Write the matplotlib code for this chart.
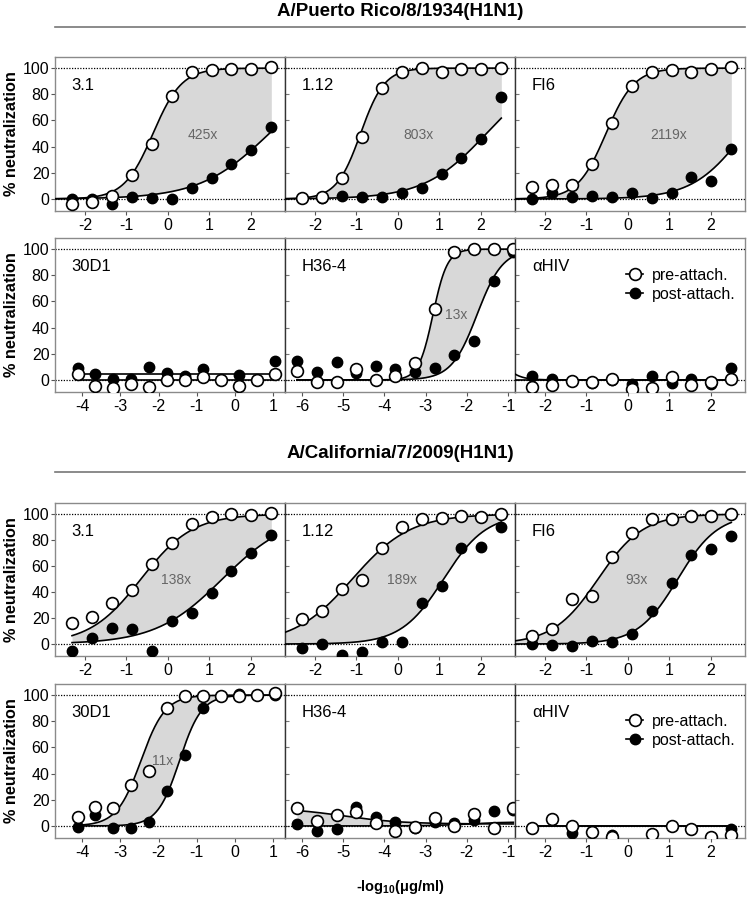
import numpy as np
import matplotlib
matplotlib.use('Agg')
import matplotlib.pyplot as plt
from matplotlib.lines import Line2D

plt.rcParams['font.family'] = ['Liberation Sans', 'DejaVu Sans']
plt.rcParams['mathtext.fontset'] = 'custom'
plt.rcParams['mathtext.rm'] = 'Liberation Sans'
plt.rcParams['mathtext.bf'] = 'Liberation Sans:bold'

# x positions (dilution series)
x_std = [-2.31, -1.83, -1.35, -0.87, -0.39, 0.09, 0.57, 1.05, 1.53, 2.01, 2.49]
x_30d1 = [-4.12, -3.65, -3.18, -2.71, -2.24, -1.77, -1.30, -0.83, -0.36, 0.11, 0.58, 1.05]
x_h36 = [-6.12, -5.64, -5.16, -4.68, -4.20, -3.73, -3.25, -2.77, -2.30, -1.82, -1.35, -0.87]

# A/Puerto Rico/8/1934
pr_31_pre = [-3.8, -2.5, 2.5, 18.6, 42.2, 78.9, 97.2, 98.5, 99.7, 99.7, 101]
pr_31_post = [0, 0, -3.8, 1.8, 0.8, 0, 8, 16, 26.5, 37.4, 54.7]
pr_112_pre = [0.5, 1.5, 16, 47, 85, 97, 100, 97, 99, 99, 100]
pr_112_post = [0.5, 0.8, 2.3, 1.3, 1.5, 4.6, 8, 19, 31, 46, 78]
pr_fi6_pre = [9.5, 10.7, 10.7, 27, 58, 86, 97, 98.5, 97, 99, 100.5]
pr_fi6_post = [0, 4.4, 1.3, 2.3, 1.3, 4.6, 0.5, 4.6, 16.5, 14, 38]
pr_30d1_pre = [4.4, -4.6, -5.9, -3, -5, 0, 0, 2.6, 0, -4.4, 0, 4.4]
pr_30d1_post = [9.5, 4.6, 0.5, 0.5, 10, 5, 3, 8, 0, 4, 0, 14.6]
pr_h36_pre = [7.2, -1.8, -1.8, 8.2, 0, 3.3, 12.8, 54, 98, 100, 100, 100]
pr_h36_post = [14.6, 6.4, 14, 5, 11, 8.2, 6, 9, 18.7, 30, 75.6, 98]
pr_hiv_pre = [-5, -3.8, -0.8, -1.8, 1, -7, -5.9, 2.6, -3.8, -1.8, 0.5]
pr_hiv_post = [3, 0.5, -0.5, -2.6, 0, -3, 3, -2.6, 0.5, -3.3, 9.5]

# A/California/7/2009
ca_31_pre = [16.5, 21, 31.8, 41.5, 61.8, 78, 92.4, 98, 100, 99.2, 101]
ca_31_post = [-5, 5, 12.5, 11.5, -5, 17.8, 24, 39.5, 56, 70, 83.5]
ca_112_pre = [19.6, 25.4, 42, 49.6, 73.8, 90.3, 96, 96.7, 98.7, 98, 100]
ca_112_post = [-3.3, 0, -8.2, -6.4, 1.3, 1.3, 31.8, 44.5, 73.8, 75, 90.3]
ca_fi6_pre = [6.3, 11.5, 34.4, 36.9, 66.6, 85.3, 96, 96, 98.5, 98.5, 100]
ca_fi6_post = [0, -0.8, -1.8, 2.5, 1.8, 7.6, 25.4, 47, 68.7, 73, 83.4]
ca_30d1_pre = [7.2, 14.8, 13.6, 31.5, 42.3, 90, 99.5, 99.5, 99, 99, 100, 101.5]
ca_30d1_post = [-0.5, 8.5, -1.3, -1.3, 3.3, 27, 54, 90, 99, 101, 100, 100]
ca_h36_pre = [13.6, 3.8, 8.5, 11, 2.5, -3.8, -0.5, 5.9, 0.2, 9.2, -1.8, 13.6]
ca_h36_post = [1.5, -3.8, -2.5, 14.8, 7.2, 3.3, -1.8, 3, 2.5, 4.6, 11.8, 12.3]
ca_hiv_pre = [-1.8, 5.4, 0, -4.4, -8.2, np.nan, -6.2, 0, -2.5, -8.2, -6.9]
ca_hiv_post = [-1.8, 5.4, -5.6, -4.4, -6.9, np.nan, -6.2, 0, -2.5, -8.2, -2.5]

# fitted curve parameters: (bottom, top, logEC50, hill)
pr_31_fit = [(0, 100, -0.36, 1.25), (0, 100, 2.44, 0.52)]
pr_112_fit = [(0, 100, -0.9, 1.5), (0, 100, 2.13, 0.58)]
pr_fi6_fit = [(0, 100, -0.53, 1.27), (0, 100, 2.8, 0.7)]
pr_30d1_fit = [(0, 0, 0, 1), (4.4, 4.4, 0, 1)]
pr_h36_fit = [(0, 100, -2.82, 2.5), (0, 100, -1.75, 1.4)]
pr_hiv_fit = [(0, 0, 0, 1), (0, 50, -3.22, -2)]
ca_31_fit = [(0, 100, -0.65, 0.7), (0, 100, 1.31, 0.54)]
ca_112_fit = [(0, 100, -1.1, 0.62), (0, 100, 1.1, 0.85)]
ca_fi6_fit = [(0, 100, -0.72, 0.8), (0, 100, 1.2, 0.9)]
ca_30d1_fit = [(0, 100, -2.46, 1.37), (0, 100, -1.45, 1.5)]
ca_h36_fit = [(1.5, 14, -5.0, -0.6), (0, 3, -2.0, 1.0)]
ca_hiv_fit = [(0, 0, 0, 1), (0, 0, 0, 1)]

names = ['3.1', '1.12', 'FI6', '30D1', 'H36-4', 'αHIV']
pr_fold = ['425x', '803x', '2119x', None, '13x', None]
ca_fold = ['138x', '189x', '93x', '11x', None, None]

W, H = 750, 898
fig = plt.figure(figsize=(W / 100, H / 100), dpi=100)

lim_std = (-2.72, 2.82)
lim_30d1 = (-4.71, 1.31)
lim_h36 = (-6.41, -0.83)


def logistic(x, p):
    b, t, c, h = p
    return b + (t - b) / (1 + 10 ** ((c - x) * h))


def px_axes(l, t, r, b):
    return fig.add_axes([l / W, 1 - b / H, (r - l) / W, (b - t) / H])


def panel(ax, col, name, x, pre, post, fit, lims, ticks, crange, fold, fold_xy, legend=False):
    xs = np.linspace(crange[0], crange[1], 300)
    y_pre = logistic(xs, fit[0])
    y_post = logistic(xs, fit[1])
    ax.fill_between(xs, y_pre, y_post, where=y_pre >= y_post, color='#d8d8d8', lw=0, zorder=1)
    ax.axhline(0, color='k', ls=(0, (1, 1.2)), lw=0.9, zorder=2)
    ax.axhline(100, color='k', ls=(0, (1, 1.2)), lw=0.9, zorder=2)
    ax.plot(xs, y_pre, color='k', lw=1.2, zorder=3)
    ax.plot(xs, y_post, color='k', lw=1.2, zorder=3)
    ax.plot(x, post, 'o', color='k', ms=7.5, zorder=4)
    ax.plot(x, pre, 'o', mfc='white', mec='k', mew=1.2, ms=8.5, zorder=5)
    ax.set_xlim(lims)
    ax.set_ylim(-9.2, 108.5)
    ax.set_xticks(ticks)
    ax.set_xticklabels([str(t) for t in ticks])
    ax.set_yticks([0, 20, 40, 60, 80, 100])
    ax.tick_params(axis='x', length=3, width=0.8, color='#555', labelsize=11.5, pad=2)
    if col == 0:
        ax.tick_params(axis='y', length=3, width=0.8, color='#555', labelsize=11.5, pad=1)
        ax.set_ylabel('% neutralization', fontsize=11.7, fontweight='bold', labelpad=3)
    else:
        ax.tick_params(axis='y', direction='in', length=3, width=0.8, color='#777', labelleft=False)
    for s in ax.spines.values():
        s.set_color('#8a8a8a')
        s.set_linewidth(1.0)
    if col > 0:
        ax.spines['left'].set_color('#333333')
    ax.text(0.073, 0.815, name, transform=ax.transAxes, fontsize=12, ha='left', va='center')
    if fold:
        ax.text(fold_xy[0], fold_xy[1], fold, fontsize=10, color='#666666', ha='center', va='center', zorder=6)
    if legend:
        hs = [Line2D([], [], color='k', lw=1.2, marker='o', mfc='white', mec='k', mew=1.2, ms=8.5),
              Line2D([], [], color='k', lw=1.2, marker='o', mfc='k', mec='k', ms=7.5)]
        ax.legend(hs, ['pre-attach.', 'post-attach.'], loc='upper right', bbox_to_anchor=(1.02, 0.9),
                  frameon=False, fontsize=11.5, handlelength=1.1, handletextpad=0.5, labelspacing=0.25)


cols = [(55, 285), (285, 515), (515, 745)]
rows = [(57, 211), (238, 392), (503, 656), (684, 838)]
t_std = [-2, -1, 0, 1, 2]
t_30d1 = [-4, -3, -2, -1, 0, 1]
t_h36 = [-6, -5, -4, -3, -2, -1]

virus = [
    ([pr_31_pre, pr_112_pre, pr_fi6_pre, pr_30d1_pre, pr_h36_pre, pr_hiv_pre],
     [pr_31_post, pr_112_post, pr_fi6_post, pr_30d1_post, pr_h36_post, pr_hiv_post],
     [pr_31_fit, pr_112_fit, pr_fi6_fit, pr_30d1_fit, pr_h36_fit, pr_hiv_fit],
     pr_fold,
     [(-2.72, 2.49), (-2.72, 2.49), (-2.72, 2.49), (-4.12, 1.05), (-6.12, -0.87), (-2.72, 2.49)],
     [(0.84, 49), (0.5, 49), (0.98, 49), None, (-2.25, 49.5), None]),
    ([ca_31_pre, ca_112_pre, ca_fi6_pre, ca_30d1_pre, ca_h36_pre, ca_hiv_pre],
     [ca_31_post, ca_112_post, ca_fi6_post, ca_30d1_post, ca_h36_post, ca_hiv_post],
     [ca_31_fit, ca_112_fit, ca_fi6_fit, ca_30d1_fit, ca_h36_fit, ca_hiv_fit],
     ca_fold,
     [(-2.31, 2.49), (-2.72, 2.49), (-2.72, 2.49), (-4.12, 1.05), (-6.12, -0.87), (-2.31, 2.49)],
     [(0.2, 49.6), (0.11, 49.6), (0.21, 49.6), (-1.88, 49.5), None, None]),
]

xs_list = [x_std, x_std, x_std, x_30d1, x_h36, x_std]
lims_list = [lim_std, lim_std, lim_std, lim_30d1, lim_h36, lim_std]
ticks_list = [t_std, t_std, t_std, t_30d1, t_h36, t_std]

for v, (pres, posts, fits, folds, cranges, fold_xys) in enumerate(virus):
    for i in range(6):
        r = rows[v * 2 + i // 3]
        c = cols[i % 3]
        ax = px_axes(c[0], r[0], c[1], r[1])
        panel(ax, i % 3, names[i], xs_list[i], pres[i], posts[i], fits[i], lims_list[i],
              ticks_list[i], cranges[i], folds[i], fold_xys[i], legend=(i == 5))

# virus titles with rule underneath
for title, ty, ly in [('A/Puerto Rico/8/1934(H1N1)', 12, 27), ('A/California/7/2009(H1N1)', 453, 472)]:
    fig.text(400 / W, 1 - ty / H, title, fontsize=13.5, fontweight='bold', ha='center', va='center')
    fig.add_artist(Line2D([55 / W, 745 / W], [1 - ly / H, 1 - ly / H], color='#777777', lw=1.2))

fig.text(400 / W, 1 - 887 / H, r'-log$_{\mathbf{10}}$(μg/ml)', fontsize=10.5, fontweight='bold',
         ha='center', va='center')

fig.savefig('out.png', dpi=100)
